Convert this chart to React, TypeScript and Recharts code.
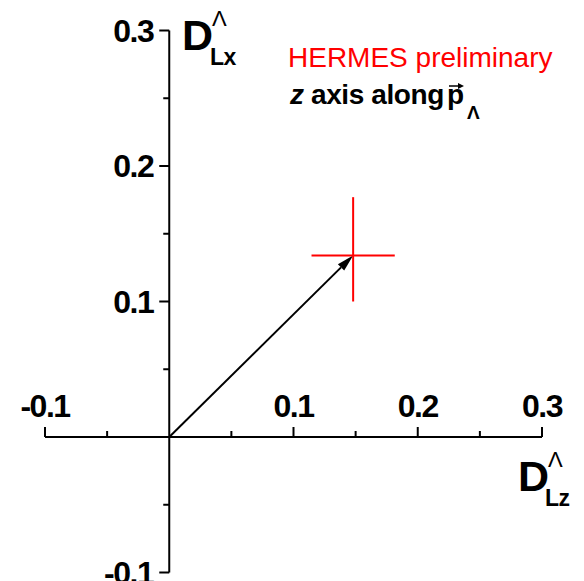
import { ErrorBar, ReferenceLine, Scatter, ScatterChart, XAxis, YAxis } from 'recharts';

const INK = '#000000';
const RED = '#ff0000';
const FONT = "'Liberation Sans', Arial, sans-serif";

// axis layout: both axes run from -0.1 to 0.3 and cross at the origin
const DOMAIN: [number, number] = [-0.1, 0.3];
const MAJOR_TICKS = [-0.1, 0.1, 0.2, 0.3];
const MINOR_TICKS = [-0.05, 0.05, 0.15, 0.25];

// measured polarisation components
const D_LZ = [0.148];
const D_LX = [0.134];
const ERR_LZ = [0.0335];
const ERR_LX: [number, number][] = [[0.034, 0.043]];

const points = D_LZ.map((x, i) => ({ x, y: D_LX[i], errX: ERR_LZ[i], errY: ERR_LX[i] }));

const xTicks = [
  ...MAJOR_TICKS.map((v) => ({ x: v, y: 0, major: true })),
  ...MINOR_TICKS.map((v) => ({ x: v, y: 0, major: false })),
];
const yTicks = [
  ...MAJOR_TICKS.map((v) => ({ x: 0, y: v, major: true })),
  ...MINOR_TICKS.map((v) => ({ x: 0, y: v, major: false })),
];

const fmt = (v: number) => (v < 0 ? '-' : '') + Math.abs(v).toFixed(1);

const labelStyle = {
  fontFamily: FONT,
  fontWeight: 700,
  fontSize: 32,
  fill: INK,
  letterSpacing: -1.5,
};

function XTick(props: any) {
  const { cx, cy, payload } = props;
  const len = payload.major ? 10 : 6;
  return (
    <g>
      <line x1={cx} y1={cy} x2={cx} y2={cy - len} stroke={INK} strokeWidth={2} />
      {payload.major && (
        <text x={cx} y={cy - 20} textAnchor="middle" {...labelStyle}>
          {fmt(payload.x)}
        </text>
      )}
    </g>
  );
}

function YTick(props: any) {
  const { cx, cy, payload } = props;
  const len = payload.major ? 10 : 6;
  return (
    <g>
      <line x1={cx - len} y1={cy} x2={cx} y2={cy} stroke={INK} strokeWidth={2} />
      {payload.major && (
        <text x={cx - 16} y={cy + 11} textAnchor="end" {...labelStyle}>
          {fmt(payload.y)}
        </text>
      )}
    </g>
  );
}

function Arrow(props: any) {
  const { x1, y1, x2, y2 } = props;
  const a = Math.atan2(y2 - y1, x2 - x1);
  const len = 17;
  const half = 4.5;
  const bx = x2 - len * Math.cos(a);
  const by = y2 - len * Math.sin(a);
  const p1 = `${bx - half * Math.sin(a)},${by + half * Math.cos(a)}`;
  const p2 = `${bx + half * Math.sin(a)},${by - half * Math.cos(a)}`;
  return (
    <g>
      <line x1={x1} y1={y1} x2={bx} y2={by} stroke={INK} strokeWidth={2} />
      <polygon points={`${x2},${y2} ${p1} ${p2}`} fill={INK} />
    </g>
  );
}

const NoMark = () => <g />;

export default function App() {
  const pt = points[0];
  return (
    <div style={{ position: 'absolute', left: 0, top: 0, width: 584, height: 581, background: '#fff' }}>
      <ScatterChart width={584} height={581} margin={{ top: 30.5, right: 42, bottom: 8.5, left: 45 }}>
        <XAxis type="number" dataKey="x" domain={DOMAIN} hide />
        <YAxis type="number" dataKey="y" domain={DOMAIN} hide />

        <ReferenceLine y={0} stroke={INK} strokeWidth={2} ifOverflow="visible" />
        <ReferenceLine x={0} stroke={INK} strokeWidth={2} ifOverflow="visible" />
        <Scatter data={xTicks} shape={XTick} isAnimationActive={false} />
        <Scatter data={yTicks} shape={YTick} isAnimationActive={false} />

        <ReferenceLine
          segment={[
            { x: 0, y: 0 },
            { x: pt.x, y: pt.y },
          ]}
          ifOverflow="visible"
          shape={Arrow}
        />

        <Scatter data={points} shape={NoMark} isAnimationActive={false}>
          <ErrorBar dataKey="errX" direction="x" width={0} stroke={RED} strokeWidth={2} />
          <ErrorBar dataKey="errY" direction="y" width={0} stroke={RED} strokeWidth={2} />
        </Scatter>

        {/* vertical axis title */}
        <text x={182} y={50} fontFamily={FONT} fontWeight={700} fontSize={43} fill={INK}>D</text>
        <text x={212} y={26} fontFamily={FONT} fontSize={22} fill={INK}>Λ</text>
        <text x={210} y={65} fontFamily={FONT} fontWeight={700} fontSize={23} fill={INK} letterSpacing={-0.5}>Lx</text>

        {/* horizontal axis title */}
        <text x={518} y={491} fontFamily={FONT} fontWeight={700} fontSize={43} fill={INK}>D</text>
        <text x={548} y={467} fontFamily={FONT} fontSize={22} fill={INK}>Λ</text>
        <text x={545} y={506} fontFamily={FONT} fontWeight={700} fontSize={23} fill={INK} letterSpacing={-0.5}>Lz</text>

        <text x={288} y={67} fontFamily={FONT} fontSize={28} fill={RED}>HERMES preliminary</text>
        <text x={290} y={104} fontFamily={FONT} fontWeight={700} fontSize={28} fill={INK} letterSpacing={-0.4}>
          <tspan fontStyle="italic">z</tspan> axis along
        </text>
        <text x={447} y={104} fontFamily={FONT} fontWeight={700} fontSize={28} fill={INK}>p</text>
        <text x={467} y={119} fontFamily={FONT} fontWeight={700} fontSize={19} fill={INK}>Λ</text>
        <line x1={449} y1={86} x2={460} y2={86} stroke={INK} strokeWidth={1.5} />
        <polygon points="464,86 458,83 458,89" fill={INK} />
      </ScatterChart>
    </div>
  );
}
